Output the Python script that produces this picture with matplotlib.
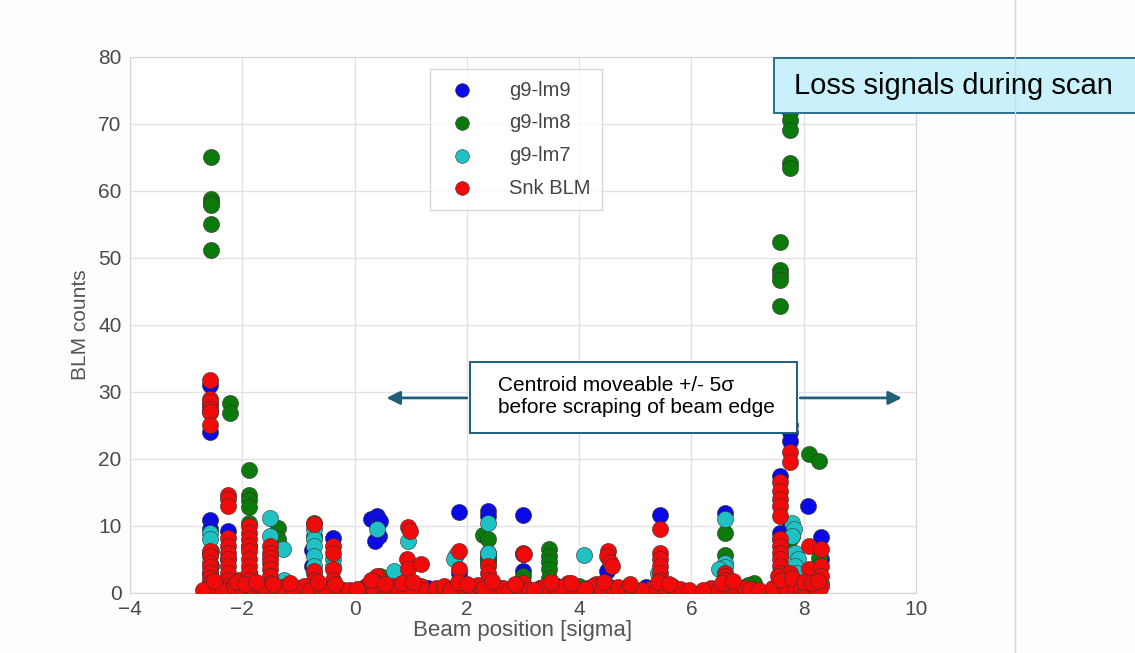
import matplotlib.pyplot as plt
from matplotlib.patches import Rectangle
from matplotlib.lines import Line2D

plt.rcParams['font.family'] = ['Liberation Sans', 'DejaVu Sans']

# g9-lm9 (blue)
lm9_x = [-2.57, -2.57, -2.57, -2.57, -2.57, -2.57, -2.57, -2.57, -2.57, -2.57,
         -2.25, -2.25, -2.25, -2.25, -1.88, -1.88, -1.35, -0.75, -0.75,
         -0.39, -0.39, 0.30, 0.40, 0.45, 0.43, 0.37, 1.07, 1.30,
         1.86, 1.86, 2.37, 2.37, 2.37, 2.37, 2.37, 3.00, 3.00, 3.00, 3.60, 4.50,
         5.45, 5.45, 6.59, 6.59, 6.90, 7.57, 7.57, 7.57, 7.75, 7.75, 7.75, 7.75,
         8.07, 8.30, 8.30, 5.20, 7.45, 3.30, -1.00, 0.90]
lm9_y = [31.0, 28.0, 27.0, 24.0, 10.9, 9.5, 6.0, 3.0, 1.5, 0.5,
         9.3, 5.0, 2.0, 0.8, 3.0, 0.5, 7.0, 6.4, 4.0,
         8.2, 1.0, 11.0, 11.5, 10.8, 8.5, 7.8, 1.0, 0.8,
         12.1, 3.0, 12.2, 11.5, 6.0, 5.0, 1.0, 11.7, 5.8, 3.3, 1.0, 3.3,
         11.6, 1.0, 12.0, 1.5, 0.8, 17.5, 9.0, 8.0, 25.0, 24.0, 22.7, 10.0,
         13.0, 8.3, 5.0, 0.9, 0.8, 0.7, 0.6, 0.9]

# g9-lm8 (green)
lm8_x = [-2.55, -2.55, -2.55, -2.55, -2.55, -2.55, -2.55, -2.55, -2.55,
         -2.22, -2.22, -1.88, -1.88, -1.88, -1.88, -1.88, -1.88, -1.88,
         -1.36, -1.36, -0.73, -0.73, 0.45, 0.45, 2.28, 2.38, 2.37, 2.37, 2.37,
         3.00, 3.46, 3.46, 3.46, 3.46, 3.46, 4.00, 5.45, 6.59, 6.59, 6.59, 7.12,
         7.57, 7.57, 7.57, 7.57, 7.57, 7.80, 7.75, 7.75, 7.75, 7.75, 7.75, 7.75,
         8.10, 8.28, 8.28, 8.28, 7.00, 1.60, -0.50]
lm8_y = [65.0, 58.8, 58.2, 57.9, 55.0, 51.2, 6.3, 4.0, 2.0,
         28.4, 26.9, 18.4, 14.6, 13.8, 12.8, 10.5, 7.0, 3.0,
         9.7, 8.0, 10.5, 8.5, 2.5, 1.5, 8.6, 8.0, 5.5, 5.0, 4.5,
         2.5, 6.5, 5.5, 4.6, 3.5, 2.2, 1.0, 1.0, 9.0, 5.6, 1.0, 1.5,
         52.3, 48.2, 47.5, 46.7, 42.8, 8.5, 71.8, 70.6, 69.1, 64.2, 63.4, 8.0,
         20.8, 19.7, 5.2, 4.0, 1.2, 0.8, 0.7]

# g9-lm7 (cyan)
lm7_x = [-2.57, -2.57, -2.57, -2.25, -1.50, -1.50, -1.27, -1.25,
         -0.73, -0.73, -0.73, -0.73, -0.73, -0.73, -0.39, -0.39, 0.40, 0.70,
         0.95, 1.80, 1.78, 2.37, 2.37, 4.09, 5.40, 6.59, 6.59, 6.59, 6.50,
         7.80, 7.82, 7.80, 7.85, 7.90, 7.85, 7.88, 7.82, 8.20, 8.20, 8.30]
lm7_y = [9.0, 8.0, 1.0, 2.0, 11.2, 8.5, 6.6, 2.0,
         9.5, 8.0, 7.0, 5.5, 4.0, 3.0, 5.0, 4.0, 9.5, 3.2,
         7.8, 5.6, 5.0, 10.5, 6.0, 5.6, 3.0, 11.0, 4.5, 3.8, 3.5,
         10.5, 9.5, 8.5, 6.0, 5.0, 4.0, 3.0, 2.0, 3.0, 1.0, 1.5]

# Snk BLM (red)
snk_x = [-2.57, -2.57, -2.57, -2.57, -2.57, -2.57, -2.57, -2.57, -2.57, -2.57,
         -2.57, -2.57, -2.57, -2.57, -2.57,
         -2.25, -2.25, -2.25, -2.25, -2.25, -2.25, -2.25, -2.25, -2.25, -2.25,
         -2.25, -2.25, -2.05, -2.05, -2.05,
         -1.88, -1.88, -1.88, -1.88, -1.88, -1.88, -1.88, -1.88, -1.88, -1.88, -1.88,
         -1.50, -1.50, -1.50, -1.50, -1.50, -1.50, -1.50, -1.50,
         -1.20, -1.20, -1.00, -1.00,
         -0.73, -0.73, -0.73, -0.73, -0.73,
         -0.39, -0.39, -0.39, -0.39, -0.39, -0.20,
         0.20, 0.20, 0.40, 0.40, 0.40,
         0.95, 0.98, 0.93, 0.95, 0.95, 1.18, 1.18, 1.50,
         1.86, 1.86, 1.86, 2.37, 2.37, 2.37, 2.37, 2.37, 2.60,
         3.00, 3.02, 3.00, 3.50, 3.80, 4.30,
         4.52, 4.50, 4.55, 4.58, 4.52, 4.80,
         5.45, 5.45, 5.45, 5.45, 5.45, 5.45, 5.45, 5.45, 5.70,
         6.59, 6.59, 6.59, 6.59, 6.59, 6.40, 6.85, 7.10,
         7.57, 7.57, 7.57, 7.57, 7.57, 7.57, 7.57, 7.57, 7.57, 7.57, 7.57, 7.57, 7.57,
         7.75, 7.75, 7.75, 7.75, 8.10, 8.10, 8.30, 8.30, 8.30, 8.30,
         # low-level readings along the scan
         -2.62, -2.45, -2.35, -2.15, -2.00, -1.80, -1.70, -1.60, -1.40, -1.30,
         -1.10, -0.90, -0.80, -0.60, -0.50, -0.30, -0.10, 0.12, 0.25, 0.35,
         0.50, 0.60, 0.70, 0.80, 0.90, 1.10, 1.20, 1.45, 1.60, 1.70,
         1.95, 2.10, 2.20, 2.50, 2.65, 2.75, 2.90, 3.10, 3.30, 3.40,
         3.60, 3.70, 3.90, 4.00, 4.15, 4.25, 4.40, 4.60, 4.70, 4.85,
         4.95, 5.18, 5.30, 5.55, 5.65, 5.80, 5.95, 6.35, 6.50, 6.70,
         6.80, 6.95, 7.05, 7.20, 7.45, 7.65, 7.70, 7.85, 7.95, 8.05,
         8.20, 8.28, -2.70, 0.05, 1.00, 2.30, 3.20, 4.10, 5.10, 6.20,
         -2.50, -2.10, -1.95, -1.75, -1.45, -1.15, -0.65, -0.35, 0.30, 0.55,
         0.85, 1.05, 1.85, 2.00, 2.45, 2.85, 3.50, 3.85, 4.45, 4.90,
         5.40, 5.60, 6.55, 6.75, 7.55, 7.60, 7.80, 8.00, 8.15, 8.25]
snk_y = [31.8, 29.0, 28.5, 27.5, 27.0, 25.0, 6.3, 5.5, 4.5, 3.8,
         3.0, 2.2, 1.5, 0.8, 0.3,
         14.6, 14.0, 13.0, 8.2, 7.0, 6.0, 5.0, 4.0, 3.0, 2.0,
         1.0, 0.4, 2.0, 1.0, 0.5,
         10.0, 9.0, 8.0, 7.0, 6.2, 5.0, 4.0, 3.0, 2.0, 1.0, 0.3,
         7.0, 6.0, 5.2, 4.5, 3.5, 2.5, 1.5, 0.5,
         1.0, 0.4, 0.8, 0.3,
         10.3, 3.2, 2.0, 1.0, 0.4,
         7.0, 6.0, 3.5, 2.0, 1.0, 0.5,
         0.5, 1.0, 2.5, 1.5, 0.6,
         9.8, 9.3, 5.0, 3.6, 1.0, 4.3, 1.0, 0.5,
         6.3, 3.5, 1.0, 4.0, 3.0, 2.0, 1.0, 0.4, 0.8,
         6.0, 5.8, 1.5, 1.0, 1.5, 1.3,
         6.3, 5.5, 4.6, 4.0, 1.0, 0.6,
         9.5, 6.0, 5.0, 4.0, 3.0, 2.0, 1.0, 0.5, 0.6,
         3.0, 2.5, 2.0, 1.0, 0.5, 0.6, 0.7, 0.5,
         16.5, 15.2, 14.0, 13.0, 11.5, 8.0, 7.0, 6.0, 5.0, 4.0, 3.0, 2.0, 1.0,
         21.0, 19.5, 3.0, 1.5, 7.0, 3.5, 6.5, 4.0, 2.5, 1.0,
         0.6, 0.9, 0.4, 1.1, 0.7, 0.5, 1.2, 0.8, 0.4, 0.9,
         0.6, 1.0, 0.5, 0.8, 0.4, 0.7, 0.5, 0.6, 1.0, 0.4,
         0.9, 0.5, 1.1, 0.6, 0.4, 0.8, 0.5, 0.7, 1.0, 0.5,
         0.9, 0.4, 1.2, 0.6, 0.8, 0.5, 1.0, 0.4, 0.7, 1.1,
         0.5, 0.9, 0.6, 0.4, 0.8, 1.0, 0.5, 0.7, 0.9, 0.4,
         0.6, 0.5, 0.8, 0.4, 1.0, 0.6, 0.5, 0.7, 0.4, 0.9,
         0.5, 0.8, 0.6, 0.4, 0.7, 1.0, 0.5, 0.8, 0.6, 0.4,
         0.7, 0.5, 0.5, 0.6, 0.4, 0.8, 0.5, 0.6, 0.4, 0.5,
         1.8, 1.6, 1.4, 1.7, 1.3, 1.5, 1.6, 1.4, 1.9, 1.3,
         1.5, 1.7, 1.6, 1.4, 1.8, 1.3, 1.6, 1.5, 1.7, 1.4,
         1.6, 1.3, 1.5, 1.8, 2.5, 1.9, 2.2, 1.7, 1.5, 1.8]

labels = ['g9-lm9', 'g9-lm8', 'g9-lm7', 'Snk BLM']
colors = ['#0a0ae6', '#0b7a0b', '#1fc2c2', '#f20a0a']

fig = plt.figure(figsize=(11.35, 6.53), dpi=100)
fig.patch.set_facecolor('#fdfdfd')
ax = fig.add_axes([0.1145, 0.092, 0.6925, 0.821])
ax.set_facecolor('white')

series = [(lm9_x, lm9_y), (lm8_x, lm8_y), (lm7_x, lm7_y), (snk_x, snk_y)]
for (xs, ys), c, lab in zip(series, colors, labels):
    ax.scatter(xs, ys, s=135, c=c, edgecolors='#333333', linewidths=0.4,
               label=lab, zorder=3)

ax.set_xlim(-4, 10)
ax.set_ylim(0, 80)
ax.set_xticks([-4, -2, 0, 2, 4, 6, 8, 10])
ax.set_yticks([0, 10, 20, 30, 40, 50, 60, 70, 80])
ax.set_xticklabels(['\u22124', '\u22122', '0', '2', '4', '6', '8', '10'])
ax.grid(True, color='#e3e3e3', lw=1.0, zorder=0)
ax.set_axisbelow(True)
for sp in ax.spines.values():
    sp.set_color('#d5d5d5')
ax.tick_params(length=0, labelsize=15, labelcolor='#4a4a4a')
ax.tick_params(axis='x', pad=5)
ax.tick_params(axis='y', pad=6)
ax.set_xlabel('Beam position [sigma]', fontsize=16, color='#555555', labelpad=1)
ax.set_ylabel('BLM counts', fontsize=15, color='#555555', labelpad=6)

leg = ax.legend(loc='upper left', bbox_to_anchor=(0.382, 0.978), fontsize=14.5,
                frameon=True, fancybox=False, labelspacing=0.68, handletextpad=1.3,
                borderpad=0.6, markerscale=0.85, borderaxespad=0,
                handlelength=2.0)
leg.get_frame().set_edgecolor('#cfcfcf')
leg.get_frame().set_linewidth(1.0)
leg.set_zorder(5)
for t in leg.get_texts():
    t.set_color('#444444')

# annotation box with arrows
ax.add_patch(Rectangle((2.05, 23.9), 5.84, 10.6, facecolor='white',
                       edgecolor='#1f5f7a', lw=1.4, zorder=6))
ax.text(2.55, 29.3, 'Centroid moveable +/- 5\u03c3\nbefore scraping of beam edge',
        fontsize=15, va='center', ha='left', linespacing=1.2, zorder=7)
ax.annotate('', xy=(0.52, 29.1), xytext=(2.05, 29.1),
            arrowprops=dict(arrowstyle='-|>', color='#1f5f7a', lw=2.0,
                            mutation_scale=20), zorder=6)
ax.annotate('', xy=(9.8, 29.1), xytext=(7.89, 29.1),
            arrowprops=dict(arrowstyle='-|>', color='#1f5f7a', lw=2.0,
                            mutation_scale=20), zorder=6, annotation_clip=False)

# slide title box and slide edge
fig.add_artist(Line2D([0.894, 0.894], [0, 1], color='#d8d8d8', lw=1.0))
fig.add_artist(Rectangle((0.682, 0.827), 0.33, 0.084, transform=fig.transFigure,
                         facecolor='#c8f1fb', edgecolor='#2c6f8a', lw=1.4))
fig.text(0.700, 0.869, 'Loss signals during scan', fontsize=21, va='center',
         ha='left', color='black')

fig.savefig('out.png', dpi=100)
